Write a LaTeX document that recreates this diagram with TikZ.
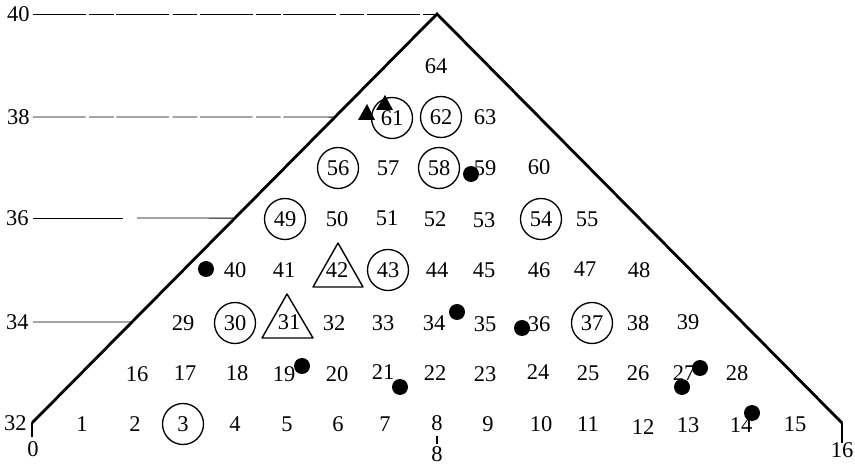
\documentclass[tikz,border=0pt]{standalone}
\usepackage{fontspec}
\setmainfont{Liberation Serif}
\usetikzlibrary{calc}
\begin{document}
\begin{tikzpicture}[x=0.02cm,y=-0.02cm,
  every node/.style={font=\fontsize{12.8pt}{14pt}\selectfont, inner sep=0pt},
  ring/.style={draw, circle, line width=0.75pt, minimum size=0.82cm},
  dot/.style={circle, fill=black, minimum size=0.32cm},
  outline/.style={line width=1.6pt, line join=miter},
  guide/.style={line width=0.5pt},
  guidedash/.style={line width=0.5pt, dash pattern=on 30pt off 2pt on 14pt off 1.5pt},
  tickline/.style={line width=0.6pt},
  tribox/.style={draw, line width=0.8pt, line join=round},
  solidtri/.style={fill=black}
]
\useasboundingbox (0,0) rectangle (855,465);

% main outline
\coordinate (O) at (32,423);
\coordinate (A) at (437,14);
\coordinate (E) at (842,423);
\draw[outline] (O) -- (A) -- (E);

% y-axis labels and guide lines
\node[anchor=east] (l40) at (30,14) {40};
\node[anchor=east] (l38) at (30,117) {38};
\node[anchor=east] (l36) at (29,218) {36};
\node[anchor=east] (l34) at (29,322) {34};
\node[anchor=east] (l32) at (27,423) {32};
\coordinate (e38) at ($(O)!0.748!(A)$);
\coordinate (e36) at ($(O)!0.501!(A)$);
\coordinate (e34) at ($(O)!0.247!(A)$);
\coordinate (g1) at (123,218);
\coordinate (g2) at (137,218);
\draw[guidedash] ([xshift=0.06cm]l40.east) -- (A);
\draw[guidedash] ([xshift=0.06cm]l38.east) -- (e38);
\draw[guide] ([xshift=0.08cm]l36.east) -- (g1);
\draw[guide] (g2) -- (e36);
\draw[guide] ([xshift=0.08cm]l34.east) -- (e34);

% x-axis ticks and labels
\coordinate (t0) at (32,437);
\coordinate (t8a) at (437,436);
\coordinate (t8b) at (437,444);
\coordinate (t16) at (842,443);
\draw[tickline] (O) -- (t0);
\draw[tickline] (t8a) -- (t8b);
\draw[tickline] (E) -- (t16);
\node (x0) at (33,449) {0};
\node (x8) at (437,454) {8};
\node (x16) at (842,450) {16};

% row 0
\node (n1) at (82,424) {1};
\node (n2) at (135,424) {2};
\node[ring] (n3) at (183,424) {3};
\node (n4) at (235,424) {4};
\node (n5) at (287,424) {5};
\node (n6) at (338,424) {6};
\node (n7) at (385,424) {7};
\node (n8) at (437,423) {8};
\node (n9) at (488,424) {9};
\node (n10) at (541,424) {10};
\node (n11) at (588,424) {11};
\node (n12) at (643,427) {12};
\node (n13) at (688,425) {13};
\node (n14) at (741,425) {14};
\node (n15) at (795,424) {15};
% row 1
\node (n16) at (137,374) {16};
\node (n17) at (185,373) {17};
\node (n18) at (237,373) {18};
\node (n19) at (284,374) {19};
\node (n20) at (337,374) {20};
\node (n21) at (383,372) {21};
\node (n22) at (435,373) {22};
\node (n23) at (485,374) {23};
\node (n24) at (538,372) {24};
\node (n25) at (588,373) {25};
\node (n26) at (638,373) {26};
\node (n27) at (684,373) {27};
\node (n28) at (737,373) {28};
% row 2
\node (n29) at (183,323) {29};
\node[ring] (n30) at (235,323) {30};
\node (n31) at (289,322) {31};
\node (n32) at (334,323) {32};
\node (n33) at (383,323) {33};
\node (n34) at (434,323) {34};
\node (n35) at (485,324) {35};
\node (n36) at (539,324) {36};
\node[ring] (n37) at (592,323) {37};
\node (n38) at (638,323) {38};
\node (n39) at (688,322) {39};
% row 3
\node (n40) at (235,270) {40};
\node (n41) at (284,270) {41};
\node (n42) at (337,270) {42};
\node[ring] (n43) at (388,270) {43};
\node (n44) at (437,270) {44};
\node (n45) at (484,270) {45};
\node (n46) at (539,270) {46};
\node (n47) at (585,269) {47};
\node (n48) at (639,270) {48};
% row 4
\node[ring] (n49) at (285,219) {49};
\node (n50) at (337,219) {50};
\node (n51) at (387,218) {51};
\node (n52) at (435,219) {52};
\node (n53) at (484,220) {53};
\node[ring] (n54) at (541,219) {54};
\node (n55) at (587,219) {55};
% row 5
\node[ring] (n56) at (338,168) {56};
\node (n57) at (388,168) {57};
\node[ring] (n58) at (439,168) {58};
\node (n59) at (485,168) {59};
\node (n60) at (539,167) {60};
% row 6
\node[ring] (n61) at (392,118) {61};
\node[ring] (n62) at (441,117) {62};
\node (n63) at (485,117) {63};
% row 7
\node (n64) at (436,66) {64};

% open triangles round 42 and 31
\draw[tribox] ($(n42)+(1,-27)$) -- ($(n42)+(-24,17)$) -- ($(n42)+(26,17)$) -- cycle;
\draw[tribox] ($(n31)+(-2,-28)$) -- ($(n31)+(-27,16)$) -- ($(n31)+(24,16)$) -- cycle;

% solid triangles at 61
\fill[solidtri] (367,104) -- (358,120) -- (375,120) -- cycle;
\fill[solidtri] (385,95) -- (376,110) -- (393,110) -- cycle;

% dots
\node[dot] (d1) at (206,269) {};
\node[dot] (d2) at (302,366) {};
\node[dot] (d3) at (400,387) {};
\node[dot] (d4) at (457,312) {};
\node[dot] (d5) at (522,328) {};
\node[dot] (d6) at (471,174) {};
\node[dot] (d7) at (700,368) {};
\node[dot] (d8) at (682,387) {};
\node[dot] (d9) at (752,413) {};
\end{tikzpicture}
\end{document}
